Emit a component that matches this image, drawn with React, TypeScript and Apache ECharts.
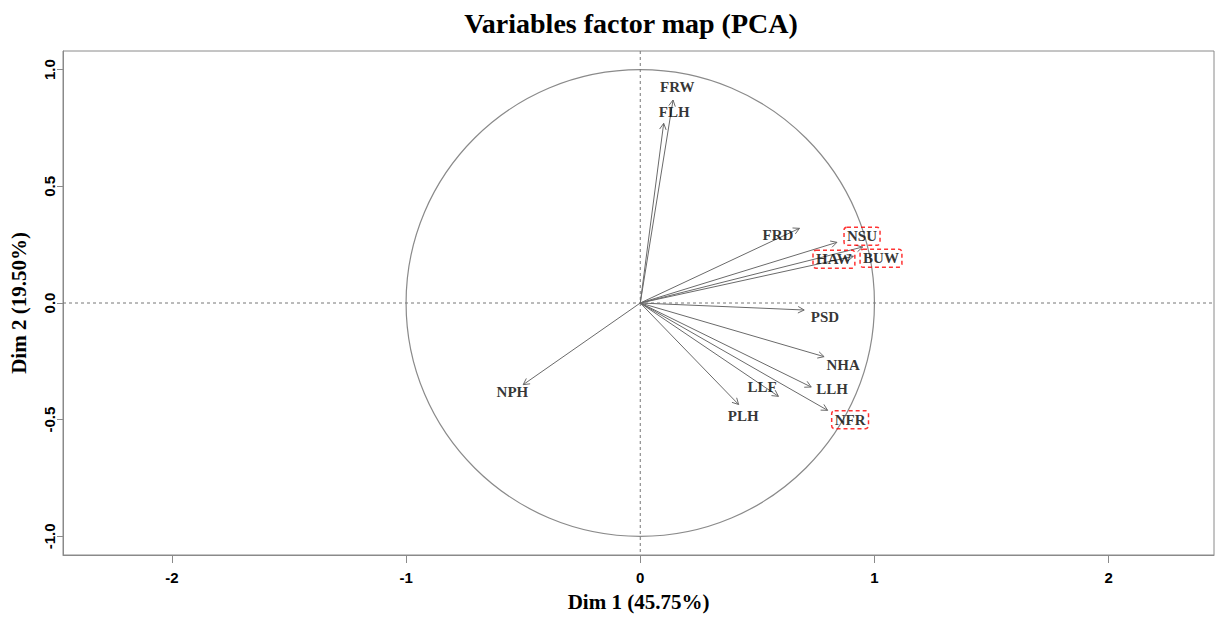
import React, { useEffect, useRef } from "react";
import * as echarts from "echarts";

const varNames = ["FRW", "FLH", "FRD", "NSU", "HAW", "BUW", "PSD", "NHA", "LLH", "LLF", "PLH", "NFR", "NPH"];
const dim1 = [0.14, 0.10, 0.68, 0.84, 0.91, 0.95, 0.70, 0.785, 0.73, 0.59, 0.42, 0.80, -0.50];
const dim2 = [0.87, 0.77, 0.32, 0.26, 0.20, 0.24, -0.03, -0.23, -0.36, -0.40, -0.435, -0.46, -0.35];
// label anchor positions in data units (as placed in the original figure)
const labelDim1 = [0.158, 0.145, 0.588, 0.947, 0.827, 1.028, 0.789, 0.866, 0.819, 0.52, 0.44, 0.896, -0.546];
const labelDim2 = [0.927, 0.82, 0.29, 0.286, 0.188, 0.192, -0.06, -0.265, -0.367, -0.359, -0.483, -0.5, -0.38];
const highlighted = ["NSU", "HAW", "BUW", "NFR"];
const xTicks = [-2, -1, 0, 1, 2];
const yTicks = [-1, -0.5, 0, 0.5, 1];

export default function App() {
  const ref = useRef<HTMLDivElement>(null);
  useEffect(() => {
    if (!ref.current) return;
    const chart = echarts.init(ref.current, null, { renderer: "svg" });
    const serif = "Liberation Serif";
    const sans = "Liberation Sans";
    const arrowData = varNames.map((n, i) => ({ name: n, value: [dim1[i], dim2[i]] }));
    const labelData = varNames.map((n, i) => {
      const hl = highlighted.includes(n);
      return {
        name: n,
        value: [labelDim1[i], labelDim2[i]],
        label: hl
          ? {
              borderColor: "#ff0000",
              borderType: [4, 3],
              borderWidth: 1.5,
              borderRadius: 3,
              padding: [2, 3, 1, 3],
            }
          : {},
      };
    });
    const option: any = {
      animation: false,
      backgroundColor: "#ffffff",
      title: {
        text: "Variables factor map (PCA)",
        left: 626,
        top: 4,
        textAlign: "center",
        textStyle: { fontFamily: serif, fontWeight: "bold", fontSize: 28, color: "#000" },
      },
      grid: {
        left: 61,
        right: 4,
        top: 51,
        bottom: 61,
        show: true,
        borderColor: "#8a8a8a",
        borderWidth: 1,
        backgroundColor: "transparent",
      },
      xAxis: {
        type: "value",
        min: -2.465,
        max: 2.45,
        name: "Dim 1 (45.75%)",
        nameLocation: "middle",
        nameGap: 36,
        nameTextStyle: { fontFamily: serif, fontWeight: "bold", fontSize: 21, color: "#000" },
        axisLine: { show: true, onZero: false, lineStyle: { color: "#8a8a8a" } },
        axisTick: { show: true, customValues: xTicks, length: 8, lineStyle: { color: "#8a8a8a" } },
        axisLabel: {
          customValues: xTicks,
          formatter: (v: number) => String(v),
          fontFamily: sans,
          fontWeight: "bold",
          fontSize: 15,
          color: "#000",
          margin: 15,
        },
        splitLine: { show: false },
      },
      yAxis: {
        type: "value",
        min: -1.08,
        max: 1.08,
        name: "Dim 2 (19.50%)",
        nameLocation: "middle",
        nameGap: 34,
        nameTextStyle: { fontFamily: serif, fontWeight: "bold", fontSize: 21, color: "#000" },
        axisLine: { show: true, onZero: false, lineStyle: { color: "#8a8a8a" } },
        axisTick: { show: true, customValues: yTicks, length: 6, lineStyle: { color: "#8a8a8a" } },
        axisLabel: {
          customValues: yTicks,
          formatter: (v: number) => v.toFixed(1),
          rotate: 90,
          fontFamily: sans,
          fontWeight: "bold",
          fontSize: 15,
          color: "#000",
          margin: 6,
        },
        splitLine: { show: false },
      },
      series: [
        {
          type: "custom",
          name: "decor",
          silent: true,
          clip: false,
          data: [[0, 0]],
          renderItem: (params: any, api: any) => {
            const c = api.coord([0, 0]);
            const s = api.size([1, 1]);
            const cs = params.coordSys;
            const dash = { stroke: "#777", lineWidth: 1, lineDash: [3, 3] };
            return {
              type: "group",
              children: [
                {
                  type: "ellipse",
                  shape: { cx: c[0], cy: c[1], rx: s[0], ry: s[1] },
                  style: { fill: "none", stroke: "#8a8a8a", lineWidth: 1.2 },
                },
                { type: "line", shape: { x1: cs.x, y1: c[1], x2: cs.x + cs.width, y2: c[1] }, style: dash },
                { type: "line", shape: { x1: c[0], y1: cs.y, x2: c[0], y2: cs.y + cs.height }, style: dash },
              ],
            };
          },
        },
        {
          type: "custom",
          name: "arrows",
          silent: true,
          clip: false,
          data: arrowData,
          renderItem: (params: any, api: any) => {
            const o = api.coord([0, 0]);
            const p = api.coord([api.value(0), api.value(1)]);
            const ang = Math.atan2(p[1] - o[1], p[0] - o[0]);
            const hl = 7;
            const ha = (28 * Math.PI) / 180;
            const a1 = [p[0] - hl * Math.cos(ang - ha), p[1] - hl * Math.sin(ang - ha)];
            const a2 = [p[0] - hl * Math.cos(ang + ha), p[1] - hl * Math.sin(ang + ha)];
            const st = { stroke: "#6a6a6a", lineWidth: 1, fill: "none" };
            return {
              type: "group",
              children: [
                { type: "line", shape: { x1: o[0], y1: o[1], x2: p[0], y2: p[1] }, style: st },
                { type: "polyline", shape: { points: [a1, p, a2] }, style: st },
              ],
            };
          },
        },
        {
          type: "scatter",
          name: "labels",
          symbolSize: 0,
          silent: true,
          itemStyle: { color: "#000" },
          data: labelData,
          label: {
            show: true,
            position: "inside",
            formatter: (p: any) => p.name,
            fontFamily: serif,
            fontWeight: "bold",
            fontSize: 15,
            color: "#000",
            textBorderWidth: 0,
          },
        },
      ],
    };
    chart.setOption(option);
    return () => chart.dispose();
  }, []);
  return (
    <div
      ref={ref}
      style={{ position: "fixed", left: 0, top: 0, width: 1218, height: 617, background: "#fff" }}
    />
  );
}
